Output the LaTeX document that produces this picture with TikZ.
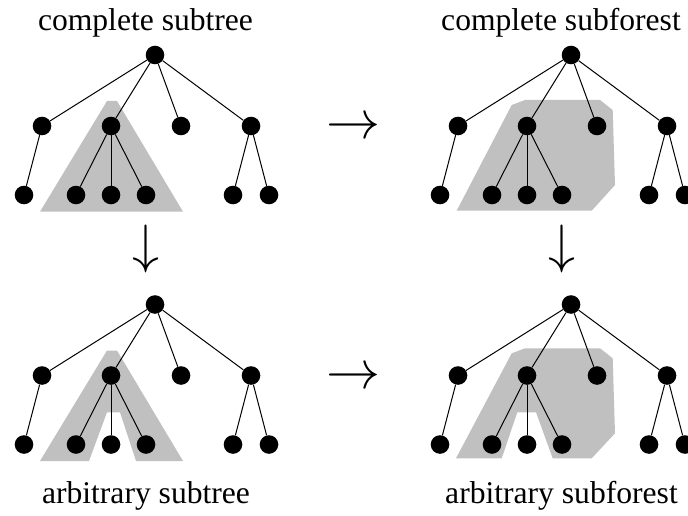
\RequirePackage{fix-cm}
\documentclass[tikz,border=0pt]{standalone}
\usepackage{fontspec}
\setmainfont{Liberation Serif}
\definecolor{shade}{RGB}{192,192,192}
\tikzset{
  dot/.style={circle, fill=black, minimum size=18.6pt, inner sep=0pt},
  edge/.style={line width=1pt},
  region/.style={fill=shade, draw=none},
  caption/.style={anchor=base, inner sep=0pt, font=\fontsize{31.6}{38}\selectfont},
  maparrow/.style={inner sep=0pt, font=\fontsize{54}{60}\selectfont},
}
% one tree; #1 = name prefix
\newcommand\onetree[1]{%
  \node[dot] (#1r)  at (155,55) {};
  \node[dot] (#1a1) at (42,126) {};
  \node[dot] (#1a2) at (111,126) {};
  \node[dot] (#1a3) at (181,126) {};
  \node[dot] (#1a4) at (251,126) {};
  \node[dot] (#1b1) at (24,195) {};
  \node[dot] (#1b2) at (76,195) {};
  \node[dot] (#1b3) at (111,195) {};
  \node[dot] (#1b4) at (146,195) {};
  \node[dot] (#1b5) at (233,195) {};
  \node[dot] (#1b6) at (269,195) {};
  \draw[edge] (#1r) -- (#1a1);
  \draw[edge] (#1r) -- (#1a2);
  \draw[edge] (#1r) -- (#1a3);
  \draw[edge] (#1r) -- (#1a4);
  \draw[edge] (#1a1) -- (#1b1);
  \draw[edge] (#1a2) -- (#1b2);
  \draw[edge] (#1a2) -- (#1b3);
  \draw[edge] (#1a2) -- (#1b4);
  \draw[edge] (#1a4) -- (#1b5);
  \draw[edge] (#1a4) -- (#1b6);
}
\begin{document}
\begin{tikzpicture}[x=1pt, y=-1pt]
\useasboundingbox (0,0) rectangle (688,516);

% shaded regions
\fill[region] (40,211.7) -- (107,101) -- (117,101) -- (183,211.7) -- cycle;
\fill[region] (456.7,210.7) -- (511.7,105) -- (525,100) -- (600,100)
  -- (612.7,110) -- (615,185) -- (591.7,210.7) -- cycle;
\fill[region] (40,461) -- (107,350.5) -- (117,350.5) -- (183,461)
  -- (136,461) -- (120,412.3) -- (107,412.3) -- (89,461) -- cycle;
\fill[region] (456,458.3) -- (511.7,353.3) -- (525,348.3) -- (600,348.3)
  -- (612.7,358.3) -- (615,433.3) -- (591.7,458.3) -- (552.7,458.3)
  -- (536,412.3) -- (517.3,412.3) -- (501.7,458.3) -- cycle;

% trees
\begin{scope}\onetree{tl}\end{scope}
\begin{scope}[shift={(416,0)}]\onetree{tr}\end{scope}
\begin{scope}[shift={(0,249.5)}]\onetree{bl}\end{scope}
\begin{scope}[shift={(416,249.5)}]\onetree{br}\end{scope}

% captions
\node[caption] (captl) at (145.5,31) {complete subtree};
\node[caption] (captr) at (561,31) {complete subforest};
\node[caption] (capbl) at (146,503) {arbitrary subtree};
\node[caption] (capbr) at (561.5,503) {arbitrary subforest};

% maps between the four cases
\node[maparrow] (rtop) at (353.5,129) {$\rightarrow$};
\node[maparrow] (rbot) at (353.5,378.5) {$\rightarrow$};
\node[maparrow] (dleft) at (146,249) {$\downarrow$};
\node[maparrow] (dright) at (561.7,249) {$\downarrow$};
\end{tikzpicture}
\end{document}
